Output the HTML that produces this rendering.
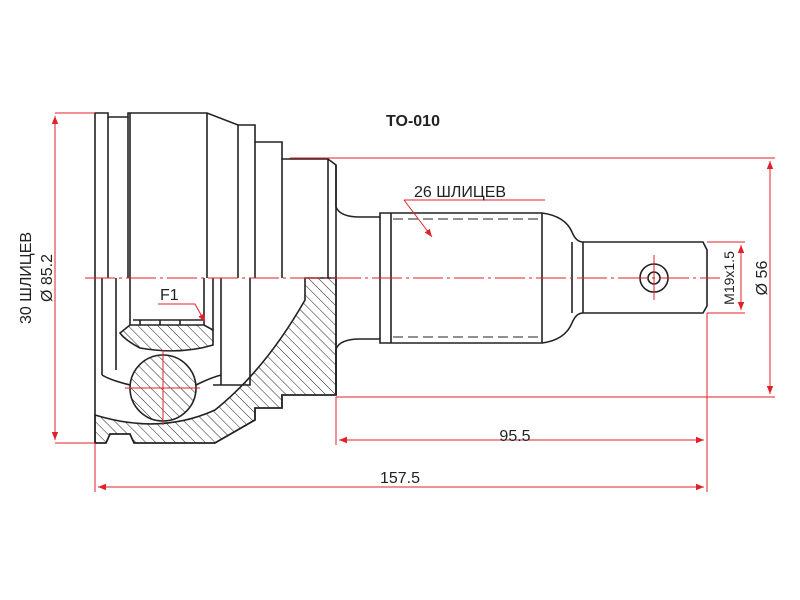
<!DOCTYPE html>
<html><head><meta charset="utf-8"><style>html,body{margin:0;padding:0;background:#fff}svg{display:block}</style></head><body>
<svg width="800" height="600" viewBox="0 0 800 600" xmlns="http://www.w3.org/2000/svg" font-family="Liberation Sans, sans-serif">
<defs>
<pattern id="h" patternUnits="userSpaceOnUse" width="7" height="7" patternTransform="rotate(-45)"><line x1="0" y1="0" x2="0" y2="7" stroke="#222" stroke-width="1"/></pattern>
<marker id="a" viewBox="0 0 10 10" refX="10" refY="5" markerWidth="8" markerHeight="8" orient="auto-start-reverse"><path d="M0,1 L10,5 L0,9 z" fill="#e0202a"/></marker>
</defs>
<g fill="none" stroke="#222" stroke-width="1.6">
<path d="M95,278 V113 H108 V117 H128 V113 H207 L238,125 H255 V142 H282 V159 H328 L336,165 V278"/>
<path d="M108,117 V278 M128,117 V278 M130,113 V278 M207,113 V278 M238,125 V278 M255,142 V278 M282,159 V278 M328,159 V278"/>
<path d="M95,278 V443 H106 L110,434 H130 L134,443 H215 L255,420 V408 H282 V395 H336 V278"/>
<path d="M102,278 V375 M116,278 V370 M130,278 V325 M204,278 V325 M213,278 V330 M221,278 V385 M250,278 V385 H213"/>
<path d="M305,278 H336 V395 H282 V408 H255 V420 L215,443 H134 L130,434 H110 L106,443 H95 V415 Q160,435 215,410 Q265,370 305,300 Z" fill="url(#h)"/>
<path d="M130,325 H204 L213,330 V345 Q180,355 140,348 Q125,340 120,333 Z" fill="url(#h)"/>
<circle cx="163" cy="388" r="33" fill="url(#h)"/>
<path d="M102,375 Q110,380 130,385 M196,385 Q210,378 221,375"/>
<path d="M133,320 H204 M140,320 V325 M160,320 V325 M180,320 V325"/>
<path d="M336,165 V207 Q340,217 360,217 H380 V213 H391 H542 Q565,216 572,232 Q576,242 583,242 H703 L707,250 V306 L703,313 H583 Q576,313 572,323 Q565,340 542,343 H391 H380 V339 H360 Q340,339 336,349 V395"/>
<path d="M380,217 V339 M391,213 V343 M542,213 V343 M572,242 V313 M583,242 V313"/>
<path d="M393,219 H540 M393,337 H540" stroke-dasharray="10,5" stroke-width="1"/>
<circle cx="654" cy="278" r="14"/><circle cx="654" cy="278" r="6"/>
</g>
<g stroke="#e0202a" stroke-width="1" fill="none">
<path d="M85,278 H720" stroke-dasharray="30,4,3,4"/>
<path d="M163,350 V425 M125,388 H200 M654,255 V300"/>
<path d="M95,113 H55 M95,443 H55 M290,158 H775 M336,397 H775 M707,313 V492 M95,443 V492 M336,397 V445 M707,242 H745 M707,313 H745"/>
<path d="M55,116 V440" marker-start="url(#a)" marker-end="url(#a)"/>
<path d="M770,161 V394" marker-start="url(#a)" marker-end="url(#a)"/>
<path d="M741,245 V310" marker-start="url(#a)" marker-end="url(#a)"/>
<path d="M339,440 H704" marker-start="url(#a)" marker-end="url(#a)"/>
<path d="M98,487 H704" marker-start="url(#a)" marker-end="url(#a)"/>
<path d="M404,200 H545 M404,200 L432,237" marker-end="url(#a)"/>
<path d="M158,304 H195 L205,322" marker-end="url(#a)"/>
</g>
<g fill="#222" font-size="16">
<text x="413" y="126" font-weight="bold" font-size="16" text-anchor="middle">TO-010</text>
<text x="414" y="197">26 ШЛИЦЕВ</text>
<text x="160" y="300">F1</text>
<text x="515" y="441" text-anchor="middle">95.5</text>
<text x="400" y="483" text-anchor="middle">157.5</text>
<text transform="translate(31,278) rotate(-90)" text-anchor="middle">30 ШЛИЦЕВ</text>
<text transform="translate(52,278) rotate(-90)" text-anchor="middle">Ø 85.2</text>
<text transform="translate(734,278) rotate(-90)" text-anchor="middle" font-size="14">M19x1.5</text>
<text transform="translate(767,278) rotate(-90)" text-anchor="middle">Ø 56</text>
</g>
</svg>
</body></html>
